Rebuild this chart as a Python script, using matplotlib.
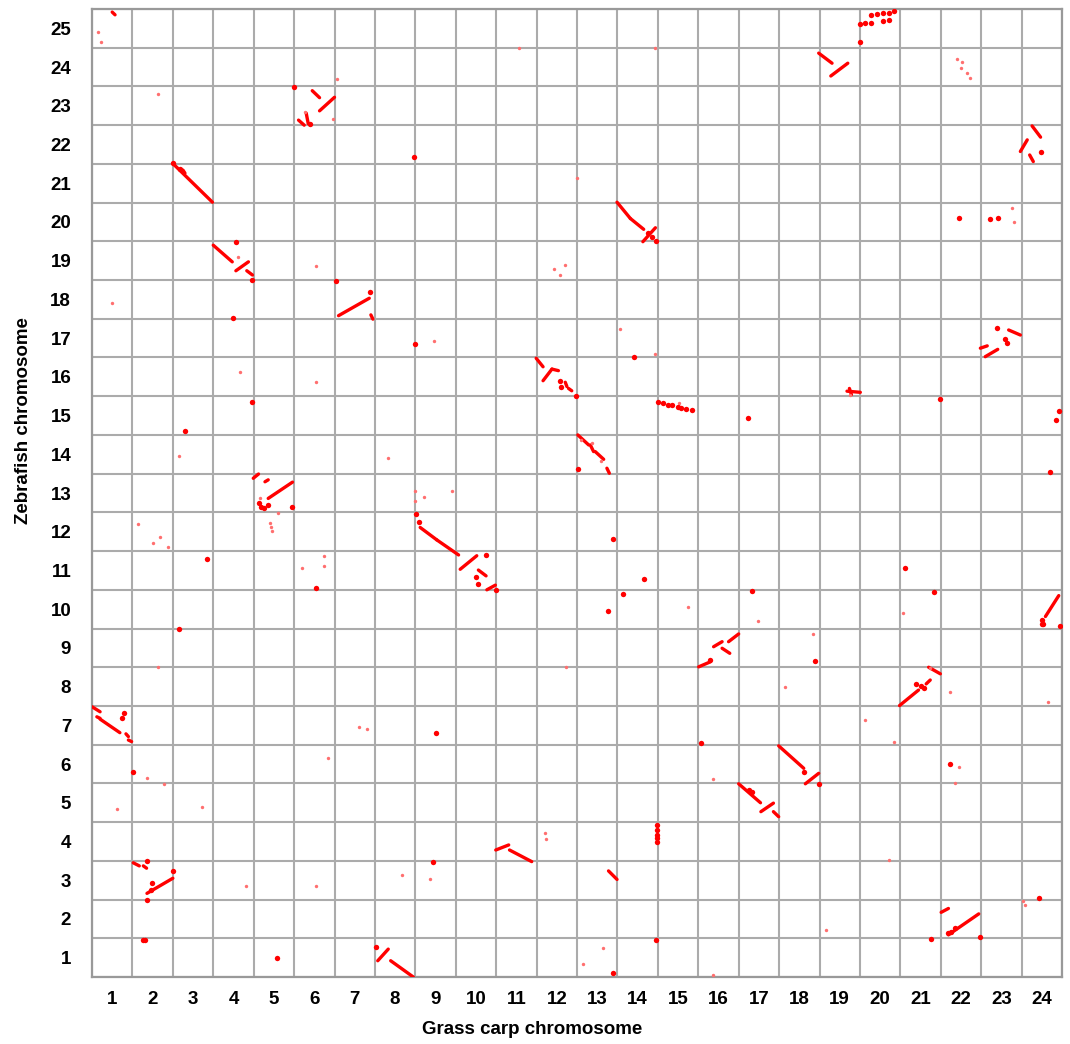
import matplotlib
matplotlib.use("Agg")
import matplotlib.pyplot as plt
from matplotlib import font_manager

# ---------------- data (grass carp position, zebrafish position; 1 unit = 1 chromosome) ----
gc_chroms = [str(i) for i in range(1, 25)]
zf_chroms = [str(i) for i in range(1, 26)]

# syntenic blocks: (gc start, zf start, gc end, zf end)
seg_gc0 = [2.00, 2.25, 3.00, 3.56, 3.83, 5.45, 5.63, 5.11, 5.30, 6.10, 6.90, 12.99, 13.32, 13.63,
           17.98, 18.28, 23.26, 22.97, 23.20, 22.68, 21.98, 22.10, 3.99, 4.28, 4.36,
           10.99, 11.16, 11.38, 11.71, 11.79, 12.02, 12.33, 12.45, 12.74, 8.12, 8.53, 9.11, 9.56, 9.77,
           18.68, 18.74, 23.92, 15.38, 15.59, 15.75, 15.01, 0.00, 0.12, 0.20, 0.84, 0.90,
           1.02, 1.27, 1.36, 9.99, 10.33, 12.78, 7.07, 7.39, 19.98, 20.64, 20.70,
           16.99, 17.65, 16.00, 16.55, 16.86, 21.01, 21.19, 0.50]
seg_zf0 = [21.01, 20.84, 18.90, 18.24, 18.24, 22.89, 22.37, 22.13, 22.31, 17.08, 17.10, 20.01, 19.59, 18.99,
           23.86, 23.27, 21.98, 21.32, 21.23, 16.71, 16.24, 16.02, 12.88, 12.79, 12.36,
           15.98, 15.40, 15.70, 15.36, 15.20, 14.00, 13.74, 13.57, 13.14, 11.61, 11.29, 10.53, 10.51, 10.00,
           15.13, 15.20, 9.85, 8.53, 8.49, 8.66, 8.01, 6.98, 6.72, 6.66, 6.28, 6.12,
           2.95, 2.87, 2.16, 3.28, 3.28, 2.74, 0.42, 0.42, 7.01, 7.57, 8.00,
           5.97, 4.99, 4.99, 4.27, 4.27, 1.67, 1.09, 24.92]
seg_gc1 = [2.98, 2.30, 3.47, 3.87, 3.97, 5.63, 6.00, 5.25, 5.35, 6.86, 6.95, 13.32, 13.65, 13.94,
           18.31, 18.70, 23.47, 23.14, 23.29, 22.97, 22.15, 22.41, 4.12, 4.36, 4.96,
           11.16, 11.38, 11.54, 11.75, 11.87, 12.29, 12.41, 12.66, 12.80, 8.53, 9.07, 9.52, 9.75, 9.98,
           19.01, 18.79, 23.59, 15.59, 15.78, 16.00, 15.30, 0.20, 0.20, 0.69, 0.90, 0.98,
           1.17, 1.35, 2.00, 10.31, 10.88, 12.99, 7.33, 7.95, 20.45, 20.74, 20.99,
           17.61, 17.98, 16.54, 16.86, 16.99, 21.19, 21.94, 0.57]
seg_zf1 = [20.01, 20.76, 18.47, 18.47, 18.13, 22.71, 22.72, 22.00, 22.04, 17.53, 16.99, 19.59, 19.31, 19.35,
           23.60, 23.60, 21.69, 21.62, 21.06, 16.58, 16.30, 16.21, 12.99, 12.84, 12.78,
           15.76, 15.70, 15.66, 15.25, 15.14, 13.74, 13.57, 13.37, 13.01, 11.29, 10.90, 10.88, 10.36, 10.12,
           15.10, 15.04, 9.31, 8.66, 8.36, 8.86, 8.14, 6.85, 6.68, 6.31, 6.21, 6.08,
           2.87, 2.81, 2.55, 3.41, 2.98, 2.52, 0.72, 0.00, 7.41, 7.67, 7.83,
           5.39, 5.26, 4.50, 4.49, 4.14, 1.77, 1.63, 24.85]

# strong single hits
big_gc = [2.00, 2.18, 3.56, 3.97, 3.50, 5.01, 5.40, 6.03, 6.88, 7.97, 13.95, 13.76, 13.86,
          18.99, 19.13, 19.28, 19.28, 19.42, 19.56, 19.71, 19.85, 19.57, 19.71, 18.99,
          23.47, 21.44, 22.23, 22.41, 22.39, 22.60, 22.64, 3.97, 2.31,
          4.36, 4.96, 4.13, 4.18, 4.26, 2.85, 5.54, 2.15, 8.00, 13.42, 11.57, 11.60, 11.97,
          14.01, 14.12, 14.24, 14.36, 14.49, 14.57, 14.70, 14.84, 12.02, 8.01, 8.08,
          9.75, 9.51, 9.55, 9.99, 12.90, 13.67, 13.14, 12.76, 16.23, 20.99, 23.92, 23.84, 23.70,
          20.11, 20.84, 16.33, 23.51, 23.54, 23.51, 23.96, 15.30, 17.90, 0.74, 0.79, 1.02,
          1.36, 2.00, 1.48, 1.45, 1.36, 1.25, 1.30, 4.57, 8.51, 15.07, 8.43,
          13.98, 13.98, 13.98, 13.98, 13.98, 13.96, 7.03, 12.90, 20.40, 20.50, 20.59,
          17.62, 17.98, 21.22, 21.17, 21.25, 21.36, 20.76, 21.96, 23.42, 16.25, 16.33]
big_zf = [21.01, 20.88, 18.98, 18.00, 17.03, 22.98, 22.04, 17.98, 17.70, 21.17, 19.02, 19.22, 19.11,
          24.61, 24.64, 24.85, 24.63, 24.86, 24.89, 24.90, 24.95, 24.69, 24.72, 24.16,
          21.30, 19.59, 19.57, 19.59, 16.75, 16.47, 16.37, 14.84, 14.11,
          12.19, 12.15, 12.23, 12.15, 12.10, 10.80, 10.05, 8.98, 16.35, 16.00, 15.40, 15.25, 15.01,
          14.86, 14.82, 14.77, 14.76, 14.73, 14.69, 14.67, 14.64, 13.12, 11.96, 11.76,
          10.90, 10.32, 10.14, 10.00, 11.31, 10.28, 9.89, 9.45, 14.43, 14.93, 14.63, 14.39, 13.04,
          10.56, 9.95, 9.97, 9.22, 9.12, 9.12, 9.07, 8.19, 8.17, 6.68, 6.83, 5.30,
          2.99, 2.74, 2.42, 2.25, 1.99, 0.96, 0.96, 0.50, 6.29, 6.04, 2.96,
          3.93, 3.80, 3.67, 3.59, 3.49, 0.96, 0.77, 0.10, 7.57, 7.52, 7.46,
          5.30, 4.99, 5.51, 1.13, 1.17, 1.26, 0.97, 1.03, 2.03, 4.83, 4.79]

# weak single hits
small_gc = [0.16, 0.22, 1.63, 5.97, 6.06, 5.26, 0.50, 5.55, 3.62, 10.57, 13.94, 12.00,
            11.42, 11.57, 11.71, 13.07, 21.40, 21.53, 21.49, 21.65, 21.72, 22.77, 22.82,
            3.66, 5.55, 2.15, 4.16, 4.60, 4.41, 4.43, 4.45, 1.13, 1.52, 1.69, 1.89,
            5.73, 5.19, 5.73, 1.63, 8.45, 13.94, 14.53, 12.10, 12.38, 12.60, 7.32,
            7.99, 7.99, 8.22, 8.90, 14.75, 11.73, 18.76, 20.07, 16.47, 17.83, 20.74,
            1.36, 1.78, 0.61, 2.73, 5.85, 6.61, 6.81, 3.80, 5.55, 11.21, 11.23, 7.68, 8.37,
            12.64, 12.16, 17.15, 21.22, 23.66, 19.13, 19.85, 21.45, 21.36, 15.36, 19.71,
            23.03, 23.09, 18.17, 15.36]
small_zf = [24.41, 24.16, 22.80, 22.16, 23.18, 22.35, 17.40, 18.37, 18.60, 24.00, 23.99, 20.64,
            18.28, 18.13, 18.39, 16.73, 23.71, 23.62, 23.47, 23.34, 23.23, 19.85, 19.51,
            15.62, 15.36, 13.46, 12.36, 11.98, 11.72, 11.62, 11.52, 11.71, 11.20, 11.37, 11.10,
            10.88, 10.56, 10.62, 8.00, 16.43, 16.09, 14.82, 13.87, 13.79, 13.33, 13.40,
            12.55, 12.30, 12.40, 12.56, 9.56, 8.00, 15.03, 9.39, 9.19, 8.86, 7.97,
            5.15, 4.99, 4.33, 4.40, 5.65, 6.46, 6.41, 2.36, 2.36, 3.73, 3.56, 2.63, 2.53,
            0.74, 0.34, 7.50, 7.37, 7.10, 6.64, 6.06, 5.42, 5.02, 5.11, 3.02,
            1.97, 1.86, 1.21, 0.05]

# ---------------- figure ----------------
available = {f.name for f in font_manager.fontManager.ttflist}
tick_family = ["Liberation Sans Narrow", "Liberation Sans", "DejaVu Sans"] \
    if "Liberation Sans Narrow" in available else ["Liberation Sans", "DejaVu Sans"]
tick_size = 14.5 if "Liberation Sans Narrow" in available else 13.5

W, H = 1070, 1044
fig = plt.figure(figsize=(W / 100, H / 100), dpi=100)
ax = fig.add_axes([92 / W, 1 - 977 / H, 970 / W, 968 / H])

n_gc, n_zf = len(gc_chroms), len(zf_chroms)
ax.set_xlim(0, n_gc)
ax.set_ylim(0, n_zf)

ax.set_xticks(range(n_gc + 1))
ax.set_yticks(range(n_zf + 1))
ax.set_xticklabels([])
ax.set_yticklabels([])
ax.set_xticks([i + 0.5 for i in range(n_gc)], minor=True)
ax.set_yticks([i + 0.5 for i in range(n_zf)], minor=True)
tick_font = dict(family=tick_family, fontweight="bold", fontsize=tick_size)
ax.set_xticklabels(gc_chroms, minor=True, **tick_font)
ax.set_yticklabels(zf_chroms, minor=True, **tick_font)
ax.tick_params(which="both", length=0)
ax.tick_params(axis="x", which="minor", pad=10)
ax.tick_params(axis="y", which="minor", pad=15)
ax.grid(True, which="major", color="#ababab", linewidth=1.5)
ax.set_axisbelow(True)
for s in ax.spines.values():
    s.set_color("#999999")
    s.set_linewidth(1.6)

red = "#ff0000"
for x0, y0, x1, y1 in zip(seg_gc0, seg_zf0, seg_gc1, seg_zf1):
    ax.plot([x0, x1], [y0, y1], color=red, linewidth=2.4, solid_capstyle="round", zorder=3)

ax.scatter(small_gc, small_zf, s=6, color="#ff6f6f", linewidths=0, zorder=3)
ax.scatter(big_gc, big_zf, s=15, color=red, linewidths=0, zorder=4)

title_font = dict(family=["Liberation Sans", "DejaVu Sans"], fontweight="bold", fontsize=13.5)
fig.text(532 / W, 1 - 1030 / H, "Grass carp chromosome", ha="center", va="center", **title_font)
fig.text(24 / W, 1 - 421 / H, "Zebrafish chromosome", ha="center", va="center",
         rotation=90, **title_font)

fig.savefig("out.png", dpi=100, facecolor="white")
